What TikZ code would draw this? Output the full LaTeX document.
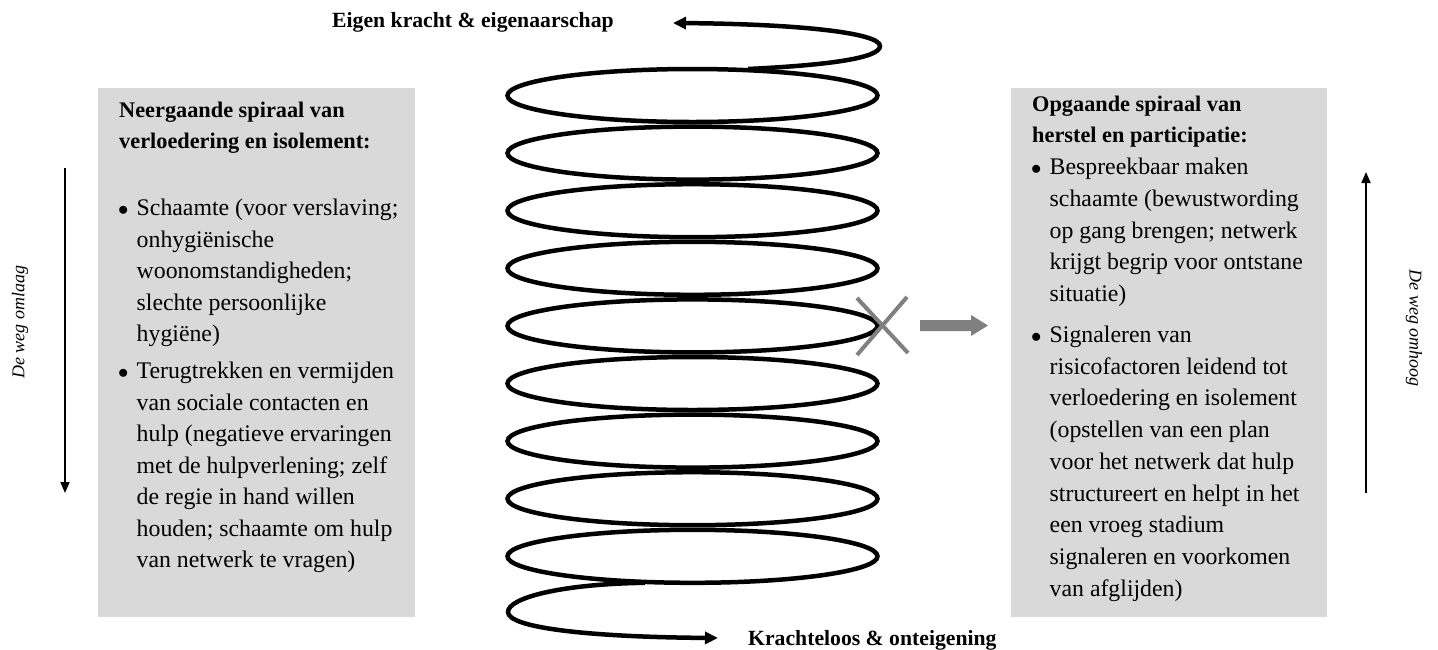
\documentclass[tikz,border=0pt]{standalone}
\usepackage{fontspec}
\setmainfont{Liberation Serif}
\usetikzlibrary{arrows.meta}
\definecolor{boxgray}{RGB}{217,217,217}
\definecolor{markgray}{RGB}{128,128,128}
\newcommand\bodyfont{\fontsize{23.8}{31.5}\selectfont}
\newcommand\headfont{\fontsize{22.3}{31.5}\selectfont\bfseries}
\newcommand\bulmark{\makebox[17.5pt][l]{\hspace{-1pt}\fontsize{20}{20}\selectfont$\bullet$}}
\newcommand\bulpar{\hangindent=17.5pt\hangafter=1 \bulmark}
\tikzset{
  panel/.style={fill=boxgray, draw=none, inner sep=0pt, anchor=north west},
  paneltext/.style={anchor=base west, inner sep=0pt},
  spir/.style={line width=4.5pt},
  spirarrow/.style={line width=4.5pt, -{Triangle[length=13pt,width=12pt]}},
  vline/.style={line width=1.8pt, -{Triangle[length=11pt,width=9pt]}},
  endlabel/.style={anchor=base west, inner sep=0pt, font=\fontsize{21.7}{26}\selectfont\bfseries},
  weglabel/.style={inner sep=0pt, font=\fontsize{18}{22}\selectfont\itshape},
  cross/.style={draw=markgray, line width=4pt}
}
\begin{document}
\begin{tikzpicture}[x=1pt,y=-1pt]
\useasboundingbox (0,0) rectangle (1438,649);
\fill[white] (0,0) rectangle (1438,649);

% side boxes
\node[panel, minimum width=317pt, minimum height=529pt] (lbox) at (98,88) {};
\node[panel, minimum width=316pt, minimum height=529pt] (rbox) at (1011,88) {};

% left text
\node[paneltext] (ltext) at (119,117) {\parbox[t]{290pt}{\bodyfont
{\headfont Neergaande spiraal van\\verloedering en isolement:\par}
\vspace{35.5pt}
\bulpar Schaamte (voor verslaving;\\onhygiënische\\woonomstandigheden;\\slechte persoonlijke\\hygiëne)\par
\vspace{5.5pt}
\bulpar Terugtrekken en vermijden\\van sociale contacten en\\hulp (negatieve ervaringen\\met de hulpverlening; zelf\\de regie in hand willen\\houden; schaamte om hulp\\van netwerk te vragen)\par}};

% right text
\node[paneltext] (rtext) at (1032,111) {\parbox[t]{290pt}{\fontsize{23.8}{31.75}\selectfont
{\fontsize{22.3}{31.75}\selectfont\bfseries Opgaande spiraal van\\herstel en participatie:\par}
\bulpar Bespreekbaar maken\\schaamte (bewustwording\\op gang brengen; netwerk\\krijgt begrip voor ontstane\\situatie)\par
\vspace{9pt}
\bulpar Signaleren van\\risicofactoren leidend tot\\verloedering en isolement\\(opstellen van een plan\\voor het netwerk dat hulp\\structureert en helpt in het\\een vroeg stadium\\signaleren en voorkomen\\van afglijden)\par}};

% side arrows and labels
\coordinate (ltop) at (65,168);
\coordinate (lbot) at (65,493);
\draw[vline] (ltop) -- (lbot);
\coordinate (rbot) at (1366,493);
\coordinate (rtop) at (1366,172);
\draw[vline] (rbot) -- (rtop);
\node[weglabel, rotate=90] (lweg) at (20,322) {De weg omlaag};
\node[weglabel, rotate=-90] (rweg) at (1414,328) {De weg omhoog};

% spiral
\foreach \k in {0,...,8}{
  \draw[spir] (692.5,{95.5+57.6*\k}) ellipse [x radius=185pt, y radius=26.5pt];
}
\coordinate (topstart) at (748,69);
\coordinate (topend) at (673,23);
\draw[spirarrow] (topstart) .. controls (830,65) and (880,58) .. (880,46)
  .. controls (880,33) and (800,24) .. (topend);
\coordinate (botstart) at (645,582.8);
\coordinate (botend) at (718,638);
\draw[spirarrow] (botstart) .. controls (560,584) and (508,598) .. (508,612)
  .. controls (508,628) and (590,637) .. (botend);

% end labels
\node[endlabel] (toplabel) at (332,27) {Eigen kracht \& eigenaarschap};
\node[endlabel] (botlabel) at (748,645) {Krachteloos \& onteigening};

% cross and gray arrow
\draw[cross] (857,298) -- (908,353);
\draw[cross] (907,297) -- (857,355);
\fill[markgray] (920,320) -- (971,320) -- (971,315) -- (988,325.5) -- (971,336) -- (971,331) -- (920,331) -- cycle;
\end{tikzpicture}
\end{document}
